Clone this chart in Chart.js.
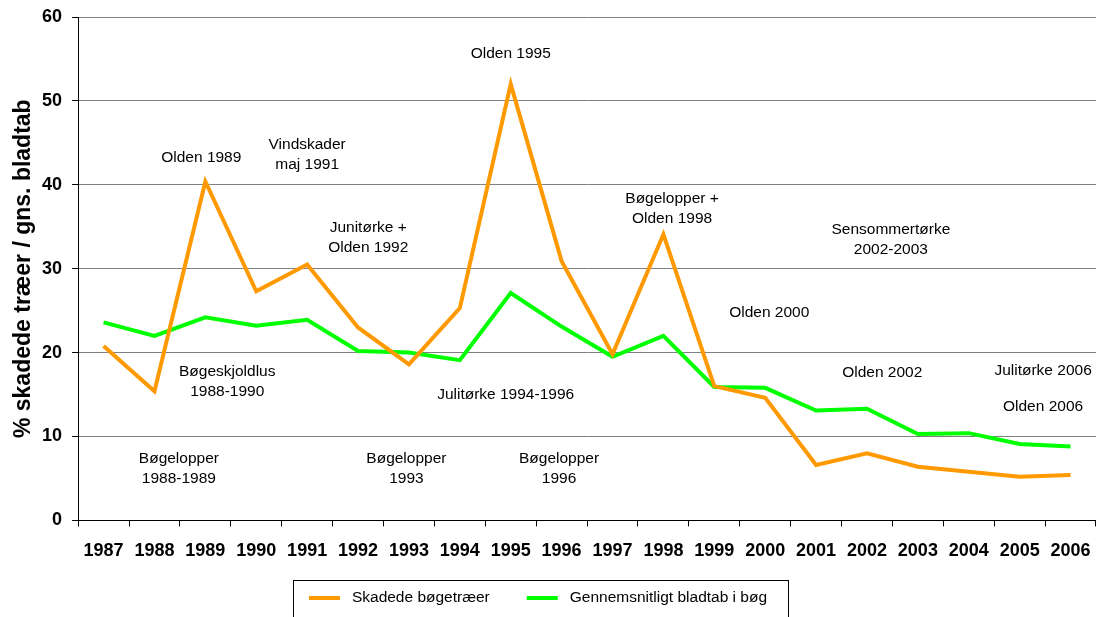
<!DOCTYPE html>
<html>
<head>
<meta charset="utf-8">
<script src="https://cdn.jsdelivr.net/npm/chart.js@4/dist/chart.umd.min.js"></script>
<style>
  html, body { margin: 0; padding: 0; background: #fff; }
</style>
</head>
<body>
<canvas id="Chart" width="1096" height="617"></canvas>
<script>
const years = ["1987", "1988", "1989", "1990", "1991", "1992", "1993", "1994", "1995", "1996",
  "1997", "1998", "1999", "2000", "2001", "2002", "2003", "2004", "2005", "2006"];
const damagedTrees = [20.8, 15.4, 40.4, 27.3, 30.5, 23.0, 18.6, 25.3, 52.0, 30.9,
  19.8, 34.1, 16.0, 14.6, 6.6, 8.0, 6.4, 5.8, 5.2, 5.4];
const leafLoss = [23.6, 22.0, 24.2, 23.2, 23.9, 20.2, 20.0, 19.1, 27.1, 23.1,
  19.5, 22.0, 15.9, 15.8, 13.1, 13.3, 10.3, 10.4, 9.1, 8.8];
const seriesNames = ["Skadede bøgetræer", "Gennemsnitligt bladtab i bøg"];
const seriesColors = ["#ff9900", "#00ff00"];
const yTicks = [0, 10, 20, 30, 40, 50, 60];

// event notes written on the chart (text lines, year index, value)
const noteTexts = [
  ["Olden 1989"],
  ["Vindskader", "maj 1991"],
  ["Junitørke +", "Olden 1992"],
  ["Olden 1995"],
  ["Bøgeskjoldlus", "1988-1990"],
  ["Julitørke 1994-1996"],
  ["Bøgelopper", "1988-1989"],
  ["Bøgelopper", "1993"],
  ["Bøgelopper", "1996"],
  ["Bøgelopper +", "Olden 1998"],
  ["Sensommertørke", "2002-2003"],
  ["Olden 2000"],
  ["Olden 2002"],
  ["Julitørke 2006"],
  ["Olden 2006"]
];
const noteX = [1.92, 4.0, 5.2, 8.0, 2.43, 7.9, 1.48, 5.95, 8.95, 11.17, 15.47, 13.08, 15.3, 18.46, 18.46];
const noteY = [43.2, 43.6, 33.7, 55.6, 16.5, 15.0, 6.2, 6.2, 6.2, 37.2, 33.4, 24.8, 17.6, 17.8, 13.6];

const ctx = document.querySelector("#Chart").getContext("2d");
const font = "'Liberation Sans', Arial, sans-serif";

const notesPlugin = {
  id: "notes",
  afterDatasetsDraw(chart) {
    const c = chart.ctx;
    const x = chart.scales.x;
    const y = chart.scales.y;
    c.save();
    c.font = "15.5px " + font;
    c.fillStyle = "#000";
    c.textAlign = "center";
    c.textBaseline = "middle";
    noteTexts.forEach((lines, i) => {
      const cx = x.getPixelForValue(noteX[i]);
      const cy = y.getPixelForValue(noteY[i]);
      const top = cy - (lines.length - 1) * 10;
      lines.forEach((line, j) => c.fillText(line, cx, top + j * 20));
    });
    c.restore();
  }
};

// framed legend under the chart, running off the bottom edge like the original
const boxLegend = {
  id: "boxLegend",
  afterDraw(chart) {
    const c = chart.ctx;
    c.save();
    c.font = "15.5px " + font;
    const lineLen = 31, gap = 12, itemGap = 37, side = 16;
    const widths = seriesNames.map(n => lineLen + gap + c.measureText(n).width);
    const total = widths.reduce((a, b) => a + b, 0) + itemGap;
    const midX = chart.width / 2 - 10;
    const cy = 598;
    let x = midX - total / 2;
    const left = Math.round(x - side) + 0.5;
    const right = Math.round(x + total + side + 5) + 0.5;
    c.strokeStyle = "#000";
    c.lineWidth = 1;
    c.strokeRect(left, 580.5, right - left, chart.height);
    c.textBaseline = "middle";
    c.fillStyle = "#000";
    seriesNames.forEach((name, i) => {
      c.strokeStyle = seriesColors[i];
      c.lineWidth = 4;
      c.beginPath();
      c.moveTo(x, cy);
      c.lineTo(x + lineLen, cy);
      c.stroke();
      c.fillText(name, x + lineLen + gap, cy);
      x += widths[i] + itemGap;
    });
    c.restore();
  }
};

const chart = new Chart(ctx, {
  type: "line",
  data: {
    labels: years,
    datasets: [
      {
        label: seriesNames[0],
        data: damagedTrees,
        borderColor: seriesColors[0],
        borderWidth: 4,
        pointRadius: 0,
        tension: 0
      },
      {
        label: seriesNames[1],
        data: leafLoss,
        borderColor: seriesColors[1],
        borderWidth: 4,
        pointRadius: 0,
        tension: 0
      }
    ]
  },
  options: {
    responsive: false,
    animation: false,
    layout: { padding: { top: 17, right: 0, bottom: 41, left: 0 } },
    plugins: {
      tooltip: { enabled: false },
      legend: { display: false }
    },
    scales: {
      x: {
        offset: true,
        afterFit(scale) {
          scale.paddingRight = 0;
        },
        grid: {
          offset: true,
          drawOnChartArea: false,
          tickLength: 6,
          color: "#000"
        },
        border: { color: "#000", width: 1 },
        ticks: {
          color: "#000",
          padding: 14,
          maxRotation: 0,
          autoSkip: false,
          font: { family: font, size: 18, weight: "bold" }
        }
      },
      y: {
        min: 0,
        max: 60,
        afterBuildTicks(axis) {
          axis.ticks = yTicks.map(v => ({ value: v }));
        },
        afterFit(scale) {
          scale.paddingTop = 0;
        },
        grid: {
          color: "#808080",
          tickLength: 6,
          tickColor: "#000"
        },
        border: { color: "#000", width: 1 },
        ticks: {
          color: "#000",
          padding: 10,
          font: { family: font, size: 18, weight: "bold" }
        },
        title: {
          display: true,
          text: "% skadede træer / gns. bladtab",
          color: "#000",
          padding: { top: 16, bottom: 0 },
          font: { family: font, size: 23, weight: "bold", lineHeight: 0.7 }
        }
      }
    }
  },
  plugins: [notesPlugin, boxLegend]
});
</script>
</body>
</html>
